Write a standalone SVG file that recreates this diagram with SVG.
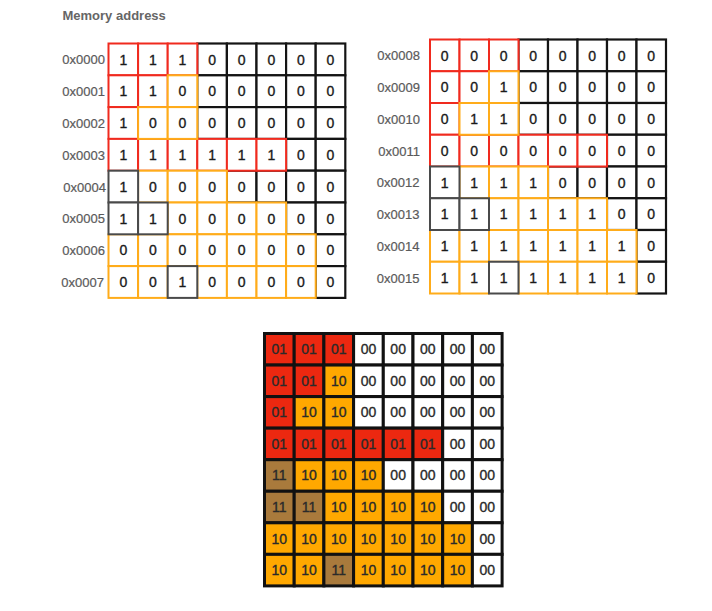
<svg xmlns="http://www.w3.org/2000/svg" width="712" height="611" viewBox="0 0 712 611">
<style>
text{font-family:"Liberation Sans",Arial,Helvetica,sans-serif;font-size:13px}
.lbl{fill:#5a5a5a;text-anchor:end;stroke:#5a5a5a;stroke-width:0.2}
.ttl{fill:#666;font-weight:bold}
.c text{fill:#1a1a1a;text-anchor:middle;font-size:14px;stroke:#1a1a1a;stroke-width:0.35}
.A rect{width:29.6px;height:31.8px}
.B rect{width:29.5px;height:31.75px}
.C rect{width:29.7px;height:31.55px}
.k{fill:#fff;stroke:#141414;stroke-width:2.2}
.g{fill:#fff;stroke:#4a4a4a;stroke-width:2}
.r{fill:#fff;stroke:#f02a1e;stroke-width:2}
.o{fill:#fff;stroke:#ffac1a;stroke-width:2}
.C rect{stroke:#111;stroke-width:3}
.b0{fill:#fff}
.b1{fill:#ec2810}
.b2{fill:#ffa800}
.b3{fill:#a97a3c}
.C text{fill:#2a2a2a;stroke:#2a2a2a}
</style>
<text class="ttl" x="62.5" y="20">Memory address</text>
<g id="labels-left">
<text class="lbl" x="105" y="64.3">0x0000</text>
<text class="lbl" x="105" y="96.1">0x0001</text>
<text class="lbl" x="105" y="127.9">0x0002</text>
<text class="lbl" x="105" y="159.7">0x0003</text>
<text class="lbl" x="106" y="191.5">0x0004</text>
<text class="lbl" x="105" y="223.3">0x0005</text>
<text class="lbl" x="105" y="255.1">0x0006</text>
<text class="lbl" x="104" y="286.9">0x0007</text>
</g>
<g id="labels-right">
<text class="lbl" x="420" y="60.3">0x0008</text>
<text class="lbl" x="420" y="92">0x0009</text>
<text class="lbl" x="420" y="123.8">0x0010</text>
<text class="lbl" x="420" y="155.5">0x0011</text>
<text class="lbl" x="419.5" y="187.3">0x0012</text>
<text class="lbl" x="419.5" y="219">0x0013</text>
<text class="lbl" x="419.5" y="250.8">0x0014</text>
<text class="lbl" x="419.5" y="282.5">0x0015</text>
</g>
<g id="grid-low" class="A c">
<g id="a0-3" transform="translate(197.3,43.5)"><rect class="k"/><text x="14.8" y="21">0</text></g>
<g id="a0-4" transform="translate(226.9,43.5)"><rect class="k"/><text x="14.8" y="21">0</text></g>
<g id="a0-5" transform="translate(256.5,43.5)"><rect class="k"/><text x="14.8" y="21">0</text></g>
<g id="a0-6" transform="translate(286.1,43.5)"><rect class="k"/><text x="14.8" y="21">0</text></g>
<g id="a0-7" transform="translate(315.7,43.5)"><rect class="k"/><text x="14.8" y="21">0</text></g>
<g id="a1-3" transform="translate(197.3,75.3)"><rect class="k"/><text x="14.8" y="21">0</text></g>
<g id="a1-4" transform="translate(226.9,75.3)"><rect class="k"/><text x="14.8" y="21">0</text></g>
<g id="a1-5" transform="translate(256.5,75.3)"><rect class="k"/><text x="14.8" y="21">0</text></g>
<g id="a1-6" transform="translate(286.1,75.3)"><rect class="k"/><text x="14.8" y="21">0</text></g>
<g id="a1-7" transform="translate(315.7,75.3)"><rect class="k"/><text x="14.8" y="21">0</text></g>
<g id="a2-3" transform="translate(197.3,107.1)"><rect class="k"/><text x="14.8" y="21">0</text></g>
<g id="a2-4" transform="translate(226.9,107.1)"><rect class="k"/><text x="14.8" y="21">0</text></g>
<g id="a2-5" transform="translate(256.5,107.1)"><rect class="k"/><text x="14.8" y="21">0</text></g>
<g id="a2-6" transform="translate(286.1,107.1)"><rect class="k"/><text x="14.8" y="21">0</text></g>
<g id="a2-7" transform="translate(315.7,107.1)"><rect class="k"/><text x="14.8" y="21">0</text></g>
<g id="a3-6" transform="translate(286.1,138.9)"><rect class="k"/><text x="14.8" y="21">0</text></g>
<g id="a3-7" transform="translate(315.7,138.9)"><rect class="k"/><text x="14.8" y="21">0</text></g>
<g id="a4-4" transform="translate(226.9,170.7)"><rect class="k"/><text x="14.8" y="21">0</text></g>
<g id="a4-5" transform="translate(256.5,170.7)"><rect class="k"/><text x="14.8" y="21">0</text></g>
<g id="a4-6" transform="translate(286.1,170.7)"><rect class="k"/><text x="14.8" y="21">0</text></g>
<g id="a4-7" transform="translate(315.7,170.7)"><rect class="k"/><text x="14.8" y="21">0</text></g>
<g id="a5-6" transform="translate(286.1,202.5)"><rect class="k"/><text x="14.8" y="21">0</text></g>
<g id="a5-7" transform="translate(315.7,202.5)"><rect class="k"/><text x="14.8" y="21">0</text></g>
<g id="a6-7" transform="translate(315.7,234.3)"><rect class="k"/><text x="14.8" y="21">0</text></g>
<g id="a7-7" transform="translate(315.7,266.1)"><rect class="k"/><text x="14.8" y="21">0</text></g>
<g id="a0-0" transform="translate(108.5,43.5)"><rect class="r"/><text x="14.8" y="21">1</text></g>
<g id="a0-1" transform="translate(138.1,43.5)"><rect class="r"/><text x="14.8" y="21">1</text></g>
<g id="a0-2" transform="translate(167.7,43.5)"><rect class="r"/><text x="14.8" y="21">1</text></g>
<g id="a1-0" transform="translate(108.5,75.3)"><rect class="r"/><text x="14.8" y="21">1</text></g>
<g id="a1-1" transform="translate(138.1,75.3)"><rect class="r"/><text x="14.8" y="21">1</text></g>
<g id="a2-0" transform="translate(108.5,107.1)"><rect class="r"/><text x="14.8" y="21">1</text></g>
<g id="a3-0" transform="translate(108.5,138.9)"><rect class="r"/><text x="14.8" y="21">1</text></g>
<g id="a3-1" transform="translate(138.1,138.9)"><rect class="r"/><text x="14.8" y="21">1</text></g>
<g id="a3-2" transform="translate(167.7,138.9)"><rect class="r"/><text x="14.8" y="21">1</text></g>
<g id="a3-3" transform="translate(197.3,138.9)"><rect class="r"/><text x="14.8" y="21">1</text></g>
<g id="a3-4" transform="translate(226.9,138.9)"><rect class="r"/><text x="14.8" y="21">1</text></g>
<g id="a3-5" transform="translate(256.5,138.9)"><rect class="r"/><text x="14.8" y="21">1</text></g>
<g id="a1-2" transform="translate(167.7,75.3)"><rect class="o"/><text x="14.8" y="21">0</text></g>
<g id="a2-1" transform="translate(138.1,107.1)"><rect class="o"/><text x="14.8" y="21">0</text></g>
<g id="a2-2" transform="translate(167.7,107.1)"><rect class="o"/><text x="14.8" y="21">0</text></g>
<g id="a4-1" transform="translate(138.1,170.7)"><rect class="o"/><text x="14.8" y="21">0</text></g>
<g id="a4-2" transform="translate(167.7,170.7)"><rect class="o"/><text x="14.8" y="21">0</text></g>
<g id="a4-3" transform="translate(197.3,170.7)"><rect class="o"/><text x="14.8" y="21">0</text></g>
<g id="a5-2" transform="translate(167.7,202.5)"><rect class="o"/><text x="14.8" y="21">0</text></g>
<g id="a5-3" transform="translate(197.3,202.5)"><rect class="o"/><text x="14.8" y="21">0</text></g>
<g id="a5-4" transform="translate(226.9,202.5)"><rect class="o"/><text x="14.8" y="21">0</text></g>
<g id="a5-5" transform="translate(256.5,202.5)"><rect class="o"/><text x="14.8" y="21">0</text></g>
<g id="a6-0" transform="translate(108.5,234.3)"><rect class="o"/><text x="14.8" y="21">0</text></g>
<g id="a6-1" transform="translate(138.1,234.3)"><rect class="o"/><text x="14.8" y="21">0</text></g>
<g id="a6-2" transform="translate(167.7,234.3)"><rect class="o"/><text x="14.8" y="21">0</text></g>
<g id="a6-3" transform="translate(197.3,234.3)"><rect class="o"/><text x="14.8" y="21">0</text></g>
<g id="a6-4" transform="translate(226.9,234.3)"><rect class="o"/><text x="14.8" y="21">0</text></g>
<g id="a6-5" transform="translate(256.5,234.3)"><rect class="o"/><text x="14.8" y="21">0</text></g>
<g id="a6-6" transform="translate(286.1,234.3)"><rect class="o"/><text x="14.8" y="21">0</text></g>
<g id="a7-0" transform="translate(108.5,266.1)"><rect class="o"/><text x="14.8" y="21">0</text></g>
<g id="a7-1" transform="translate(138.1,266.1)"><rect class="o"/><text x="14.8" y="21">0</text></g>
<g id="a7-3" transform="translate(197.3,266.1)"><rect class="o"/><text x="14.8" y="21">0</text></g>
<g id="a7-4" transform="translate(226.9,266.1)"><rect class="o"/><text x="14.8" y="21">0</text></g>
<g id="a7-5" transform="translate(256.5,266.1)"><rect class="o"/><text x="14.8" y="21">0</text></g>
<g id="a7-6" transform="translate(286.1,266.1)"><rect class="o"/><text x="14.8" y="21">0</text></g>
<g id="a4-0" transform="translate(108.5,170.7)"><rect class="g"/><text x="14.8" y="21">1</text></g>
<g id="a5-0" transform="translate(108.5,202.5)"><rect class="g"/><text x="14.8" y="21">1</text></g>
<g id="a5-1" transform="translate(138.1,202.5)"><rect class="g"/><text x="14.8" y="21">1</text></g>
<g id="a7-2" transform="translate(167.7,266.1)"><rect class="g"/><text x="14.8" y="21">1</text></g>
</g>
<g id="grid-high" class="B c">
<g id="b0-3" transform="translate(518.5,39.5)"><rect class="k"/><text x="14.75" y="21">0</text></g>
<g id="b0-4" transform="translate(548,39.5)"><rect class="k"/><text x="14.75" y="21">0</text></g>
<g id="b0-5" transform="translate(577.5,39.5)"><rect class="k"/><text x="14.75" y="21">0</text></g>
<g id="b0-6" transform="translate(607,39.5)"><rect class="k"/><text x="14.75" y="21">0</text></g>
<g id="b0-7" transform="translate(636.5,39.5)"><rect class="k"/><text x="14.75" y="21">0</text></g>
<g id="b1-3" transform="translate(518.5,71.25)"><rect class="k"/><text x="14.75" y="21">0</text></g>
<g id="b1-4" transform="translate(548,71.25)"><rect class="k"/><text x="14.75" y="21">0</text></g>
<g id="b1-5" transform="translate(577.5,71.25)"><rect class="k"/><text x="14.75" y="21">0</text></g>
<g id="b1-6" transform="translate(607,71.25)"><rect class="k"/><text x="14.75" y="21">0</text></g>
<g id="b1-7" transform="translate(636.5,71.25)"><rect class="k"/><text x="14.75" y="21">0</text></g>
<g id="b2-3" transform="translate(518.5,103)"><rect class="k"/><text x="14.75" y="21">0</text></g>
<g id="b2-4" transform="translate(548,103)"><rect class="k"/><text x="14.75" y="21">0</text></g>
<g id="b2-5" transform="translate(577.5,103)"><rect class="k"/><text x="14.75" y="21">0</text></g>
<g id="b2-6" transform="translate(607,103)"><rect class="k"/><text x="14.75" y="21">0</text></g>
<g id="b2-7" transform="translate(636.5,103)"><rect class="k"/><text x="14.75" y="21">0</text></g>
<g id="b3-6" transform="translate(607,134.75)"><rect class="k"/><text x="14.75" y="21">0</text></g>
<g id="b3-7" transform="translate(636.5,134.75)"><rect class="k"/><text x="14.75" y="21">0</text></g>
<g id="b4-4" transform="translate(548,166.5)"><rect class="k"/><text x="14.75" y="21">0</text></g>
<g id="b4-5" transform="translate(577.5,166.5)"><rect class="k"/><text x="14.75" y="21">0</text></g>
<g id="b4-6" transform="translate(607,166.5)"><rect class="k"/><text x="14.75" y="21">0</text></g>
<g id="b4-7" transform="translate(636.5,166.5)"><rect class="k"/><text x="14.75" y="21">0</text></g>
<g id="b5-6" transform="translate(607,198.25)"><rect class="k"/><text x="14.75" y="21">0</text></g>
<g id="b5-7" transform="translate(636.5,198.25)"><rect class="k"/><text x="14.75" y="21">0</text></g>
<g id="b6-7" transform="translate(636.5,230)"><rect class="k"/><text x="14.75" y="21">0</text></g>
<g id="b7-7" transform="translate(636.5,261.75)"><rect class="k"/><text x="14.75" y="21">0</text></g>
<g id="b0-0" transform="translate(430,39.5)"><rect class="r"/><text x="14.75" y="21">0</text></g>
<g id="b0-1" transform="translate(459.5,39.5)"><rect class="r"/><text x="14.75" y="21">0</text></g>
<g id="b0-2" transform="translate(489,39.5)"><rect class="r"/><text x="14.75" y="21">0</text></g>
<g id="b1-0" transform="translate(430,71.25)"><rect class="r"/><text x="14.75" y="21">0</text></g>
<g id="b1-1" transform="translate(459.5,71.25)"><rect class="r"/><text x="14.75" y="21">0</text></g>
<g id="b2-0" transform="translate(430,103)"><rect class="r"/><text x="14.75" y="21">0</text></g>
<g id="b3-0" transform="translate(430,134.75)"><rect class="r"/><text x="14.75" y="21">0</text></g>
<g id="b3-1" transform="translate(459.5,134.75)"><rect class="r"/><text x="14.75" y="21">0</text></g>
<g id="b3-2" transform="translate(489,134.75)"><rect class="r"/><text x="14.75" y="21">0</text></g>
<g id="b3-3" transform="translate(518.5,134.75)"><rect class="r"/><text x="14.75" y="21">0</text></g>
<g id="b3-4" transform="translate(548,134.75)"><rect class="r"/><text x="14.75" y="21">0</text></g>
<g id="b3-5" transform="translate(577.5,134.75)"><rect class="r"/><text x="14.75" y="21">0</text></g>
<g id="b1-2" transform="translate(489,71.25)"><rect class="o"/><text x="14.75" y="21">1</text></g>
<g id="b2-1" transform="translate(459.5,103)"><rect class="o"/><text x="14.75" y="21">1</text></g>
<g id="b2-2" transform="translate(489,103)"><rect class="o"/><text x="14.75" y="21">1</text></g>
<g id="b4-1" transform="translate(459.5,166.5)"><rect class="o"/><text x="14.75" y="21">1</text></g>
<g id="b4-2" transform="translate(489,166.5)"><rect class="o"/><text x="14.75" y="21">1</text></g>
<g id="b4-3" transform="translate(518.5,166.5)"><rect class="o"/><text x="14.75" y="21">1</text></g>
<g id="b5-2" transform="translate(489,198.25)"><rect class="o"/><text x="14.75" y="21">1</text></g>
<g id="b5-3" transform="translate(518.5,198.25)"><rect class="o"/><text x="14.75" y="21">1</text></g>
<g id="b5-4" transform="translate(548,198.25)"><rect class="o"/><text x="14.75" y="21">1</text></g>
<g id="b5-5" transform="translate(577.5,198.25)"><rect class="o"/><text x="14.75" y="21">1</text></g>
<g id="b6-0" transform="translate(430,230)"><rect class="o"/><text x="14.75" y="21">1</text></g>
<g id="b6-1" transform="translate(459.5,230)"><rect class="o"/><text x="14.75" y="21">1</text></g>
<g id="b6-2" transform="translate(489,230)"><rect class="o"/><text x="14.75" y="21">1</text></g>
<g id="b6-3" transform="translate(518.5,230)"><rect class="o"/><text x="14.75" y="21">1</text></g>
<g id="b6-4" transform="translate(548,230)"><rect class="o"/><text x="14.75" y="21">1</text></g>
<g id="b6-5" transform="translate(577.5,230)"><rect class="o"/><text x="14.75" y="21">1</text></g>
<g id="b6-6" transform="translate(607,230)"><rect class="o"/><text x="14.75" y="21">1</text></g>
<g id="b7-0" transform="translate(430,261.75)"><rect class="o"/><text x="14.75" y="21">1</text></g>
<g id="b7-1" transform="translate(459.5,261.75)"><rect class="o"/><text x="14.75" y="21">1</text></g>
<g id="b7-3" transform="translate(518.5,261.75)"><rect class="o"/><text x="14.75" y="21">1</text></g>
<g id="b7-4" transform="translate(548,261.75)"><rect class="o"/><text x="14.75" y="21">1</text></g>
<g id="b7-5" transform="translate(577.5,261.75)"><rect class="o"/><text x="14.75" y="21">1</text></g>
<g id="b7-6" transform="translate(607,261.75)"><rect class="o"/><text x="14.75" y="21">1</text></g>
<g id="b4-0" transform="translate(430,166.5)"><rect class="g"/><text x="14.75" y="21">1</text></g>
<g id="b5-0" transform="translate(430,198.25)"><rect class="g"/><text x="14.75" y="21">1</text></g>
<g id="b5-1" transform="translate(459.5,198.25)"><rect class="g"/><text x="14.75" y="21">1</text></g>
<g id="b7-2" transform="translate(489,261.75)"><rect class="g"/><text x="14.75" y="21">1</text></g>
</g>
<g id="grid-combined" class="C c">
<g id="c0-0" transform="translate(264.5,333.5)"><rect class="b1"/><text x="14.85" y="20.8">01</text></g>
<g id="c0-1" transform="translate(294.2,333.5)"><rect class="b1"/><text x="14.85" y="20.8">01</text></g>
<g id="c0-2" transform="translate(323.9,333.5)"><rect class="b1"/><text x="14.85" y="20.8">01</text></g>
<g id="c0-3" transform="translate(353.6,333.5)"><rect class="b0"/><text x="14.85" y="20.8">00</text></g>
<g id="c0-4" transform="translate(383.3,333.5)"><rect class="b0"/><text x="14.85" y="20.8">00</text></g>
<g id="c0-5" transform="translate(413,333.5)"><rect class="b0"/><text x="14.85" y="20.8">00</text></g>
<g id="c0-6" transform="translate(442.7,333.5)"><rect class="b0"/><text x="14.85" y="20.8">00</text></g>
<g id="c0-7" transform="translate(472.4,333.5)"><rect class="b0"/><text x="14.85" y="20.8">00</text></g>
<g id="c1-0" transform="translate(264.5,365.05)"><rect class="b1"/><text x="14.85" y="20.8">01</text></g>
<g id="c1-1" transform="translate(294.2,365.05)"><rect class="b1"/><text x="14.85" y="20.8">01</text></g>
<g id="c1-2" transform="translate(323.9,365.05)"><rect class="b2"/><text x="14.85" y="20.8">10</text></g>
<g id="c1-3" transform="translate(353.6,365.05)"><rect class="b0"/><text x="14.85" y="20.8">00</text></g>
<g id="c1-4" transform="translate(383.3,365.05)"><rect class="b0"/><text x="14.85" y="20.8">00</text></g>
<g id="c1-5" transform="translate(413,365.05)"><rect class="b0"/><text x="14.85" y="20.8">00</text></g>
<g id="c1-6" transform="translate(442.7,365.05)"><rect class="b0"/><text x="14.85" y="20.8">00</text></g>
<g id="c1-7" transform="translate(472.4,365.05)"><rect class="b0"/><text x="14.85" y="20.8">00</text></g>
<g id="c2-0" transform="translate(264.5,396.6)"><rect class="b1"/><text x="14.85" y="20.8">01</text></g>
<g id="c2-1" transform="translate(294.2,396.6)"><rect class="b2"/><text x="14.85" y="20.8">10</text></g>
<g id="c2-2" transform="translate(323.9,396.6)"><rect class="b2"/><text x="14.85" y="20.8">10</text></g>
<g id="c2-3" transform="translate(353.6,396.6)"><rect class="b0"/><text x="14.85" y="20.8">00</text></g>
<g id="c2-4" transform="translate(383.3,396.6)"><rect class="b0"/><text x="14.85" y="20.8">00</text></g>
<g id="c2-5" transform="translate(413,396.6)"><rect class="b0"/><text x="14.85" y="20.8">00</text></g>
<g id="c2-6" transform="translate(442.7,396.6)"><rect class="b0"/><text x="14.85" y="20.8">00</text></g>
<g id="c2-7" transform="translate(472.4,396.6)"><rect class="b0"/><text x="14.85" y="20.8">00</text></g>
<g id="c3-0" transform="translate(264.5,428.15)"><rect class="b1"/><text x="14.85" y="20.8">01</text></g>
<g id="c3-1" transform="translate(294.2,428.15)"><rect class="b1"/><text x="14.85" y="20.8">01</text></g>
<g id="c3-2" transform="translate(323.9,428.15)"><rect class="b1"/><text x="14.85" y="20.8">01</text></g>
<g id="c3-3" transform="translate(353.6,428.15)"><rect class="b1"/><text x="14.85" y="20.8">01</text></g>
<g id="c3-4" transform="translate(383.3,428.15)"><rect class="b1"/><text x="14.85" y="20.8">01</text></g>
<g id="c3-5" transform="translate(413,428.15)"><rect class="b1"/><text x="14.85" y="20.8">01</text></g>
<g id="c3-6" transform="translate(442.7,428.15)"><rect class="b0"/><text x="14.85" y="20.8">00</text></g>
<g id="c3-7" transform="translate(472.4,428.15)"><rect class="b0"/><text x="14.85" y="20.8">00</text></g>
<g id="c4-0" transform="translate(264.5,459.7)"><rect class="b3"/><text x="14.85" y="20.8">11</text></g>
<g id="c4-1" transform="translate(294.2,459.7)"><rect class="b2"/><text x="14.85" y="20.8">10</text></g>
<g id="c4-2" transform="translate(323.9,459.7)"><rect class="b2"/><text x="14.85" y="20.8">10</text></g>
<g id="c4-3" transform="translate(353.6,459.7)"><rect class="b2"/><text x="14.85" y="20.8">10</text></g>
<g id="c4-4" transform="translate(383.3,459.7)"><rect class="b0"/><text x="14.85" y="20.8">00</text></g>
<g id="c4-5" transform="translate(413,459.7)"><rect class="b0"/><text x="14.85" y="20.8">00</text></g>
<g id="c4-6" transform="translate(442.7,459.7)"><rect class="b0"/><text x="14.85" y="20.8">00</text></g>
<g id="c4-7" transform="translate(472.4,459.7)"><rect class="b0"/><text x="14.85" y="20.8">00</text></g>
<g id="c5-0" transform="translate(264.5,491.25)"><rect class="b3"/><text x="14.85" y="20.8">11</text></g>
<g id="c5-1" transform="translate(294.2,491.25)"><rect class="b3"/><text x="14.85" y="20.8">11</text></g>
<g id="c5-2" transform="translate(323.9,491.25)"><rect class="b2"/><text x="14.85" y="20.8">10</text></g>
<g id="c5-3" transform="translate(353.6,491.25)"><rect class="b2"/><text x="14.85" y="20.8">10</text></g>
<g id="c5-4" transform="translate(383.3,491.25)"><rect class="b2"/><text x="14.85" y="20.8">10</text></g>
<g id="c5-5" transform="translate(413,491.25)"><rect class="b2"/><text x="14.85" y="20.8">10</text></g>
<g id="c5-6" transform="translate(442.7,491.25)"><rect class="b0"/><text x="14.85" y="20.8">00</text></g>
<g id="c5-7" transform="translate(472.4,491.25)"><rect class="b0"/><text x="14.85" y="20.8">00</text></g>
<g id="c6-0" transform="translate(264.5,522.8)"><rect class="b2"/><text x="14.85" y="20.8">10</text></g>
<g id="c6-1" transform="translate(294.2,522.8)"><rect class="b2"/><text x="14.85" y="20.8">10</text></g>
<g id="c6-2" transform="translate(323.9,522.8)"><rect class="b2"/><text x="14.85" y="20.8">10</text></g>
<g id="c6-3" transform="translate(353.6,522.8)"><rect class="b2"/><text x="14.85" y="20.8">10</text></g>
<g id="c6-4" transform="translate(383.3,522.8)"><rect class="b2"/><text x="14.85" y="20.8">10</text></g>
<g id="c6-5" transform="translate(413,522.8)"><rect class="b2"/><text x="14.85" y="20.8">10</text></g>
<g id="c6-6" transform="translate(442.7,522.8)"><rect class="b2"/><text x="14.85" y="20.8">10</text></g>
<g id="c6-7" transform="translate(472.4,522.8)"><rect class="b0"/><text x="14.85" y="20.8">00</text></g>
<g id="c7-0" transform="translate(264.5,554.35)"><rect class="b2"/><text x="14.85" y="20.8">10</text></g>
<g id="c7-1" transform="translate(294.2,554.35)"><rect class="b2"/><text x="14.85" y="20.8">10</text></g>
<g id="c7-2" transform="translate(323.9,554.35)"><rect class="b3"/><text x="14.85" y="20.8">11</text></g>
<g id="c7-3" transform="translate(353.6,554.35)"><rect class="b2"/><text x="14.85" y="20.8">10</text></g>
<g id="c7-4" transform="translate(383.3,554.35)"><rect class="b2"/><text x="14.85" y="20.8">10</text></g>
<g id="c7-5" transform="translate(413,554.35)"><rect class="b2"/><text x="14.85" y="20.8">10</text></g>
<g id="c7-6" transform="translate(442.7,554.35)"><rect class="b2"/><text x="14.85" y="20.8">10</text></g>
<g id="c7-7" transform="translate(472.4,554.35)"><rect class="b0"/><text x="14.85" y="20.8">00</text></g>
</g>
</svg>
